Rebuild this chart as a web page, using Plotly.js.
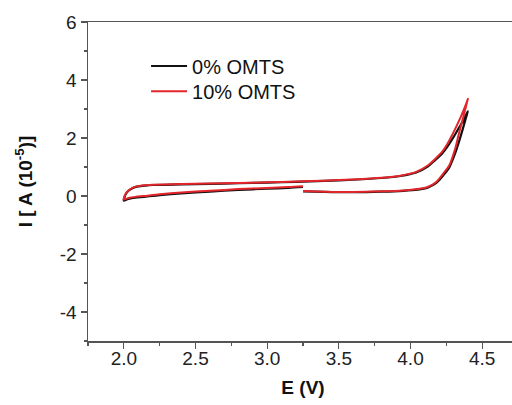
<!DOCTYPE html>
<html>
<head>
<meta charset="utf-8">
<script src="https://cdn.plot.ly/plotly-3.0.1.min.js"></script>
<style>
html, body { margin: 0; padding: 0; overflow: hidden; background: #fff; }
#chart { width: 520px; height: 405px; }
</style>
</head>
<body>
<div id="chart"></div>
<script>
// Potential (V) along the scan path: lower-right branch up to vertex, upper branch back to 2.0 V, lower-left branch to 3.25 V
const E_black = [3.25, 3.4, 3.6, 3.8, 3.95, 4.05, 4.12, 4.18, 4.23, 4.27, 4.31, 4.34, 4.37, 4.39, 4.40,
  4.39, 4.37, 4.35, 4.32, 4.29, 4.26, 4.22, 4.17, 4.12, 4.04, 3.93, 3.8, 3.6, 3.4, 3.2, 3.0, 2.8, 2.6, 2.4, 2.2, 2.15, 2.1, 2.06, 2.03, 2.01, 2.0,
  2.02, 2.04, 2.08, 2.14, 2.25, 2.4, 2.6, 2.8, 3.0, 3.15, 3.25];
const I_black = [0.16, 0.14, 0.13, 0.15, 0.18, 0.22, 0.29, 0.45, 0.72, 0.98, 1.45, 1.9, 2.4, 2.75, 2.92,
  2.82, 2.62, 2.45, 2.2, 1.95, 1.72, 1.46, 1.23, 1.01, 0.81, 0.69, 0.62, 0.56, 0.52, 0.49, 0.46, 0.44, 0.42, 0.40, 0.38, 0.36, 0.33, 0.27, 0.17, 0.03, -0.16,
  -0.12, -0.09, -0.06, -0.03, 0.03, 0.09, 0.15, 0.21, 0.25, 0.28, 0.31];
const E_red = [3.25, 3.4, 3.6, 3.8, 3.95, 4.05, 4.12, 4.18, 4.23, 4.27, 4.31, 4.34, 4.37, 4.39, 4.40,
  4.39, 4.37, 4.35, 4.32, 4.29, 4.26, 4.22, 4.17, 4.12, 4.04, 3.93, 3.8, 3.6, 3.4, 3.2, 3.0, 2.8, 2.6, 2.4, 2.2, 2.15, 2.1, 2.06, 2.03, 2.01, 2.0,
  2.02, 2.04, 2.08, 2.14, 2.25, 2.4, 2.6, 2.8, 3.0, 3.15, 3.25];
const I_red = [0.17, 0.15, 0.14, 0.16, 0.19, 0.24, 0.31, 0.48, 0.78, 1.05, 1.6, 2.2, 2.75, 3.15, 3.35,
  3.2, 2.95, 2.72, 2.4, 2.1, 1.82, 1.52, 1.27, 1.05, 0.83, 0.70, 0.63, 0.57, 0.53, 0.50, 0.47, 0.45, 0.43, 0.41, 0.39, 0.37, 0.34, 0.28, 0.18, 0.05, -0.12,
  -0.09, -0.06, -0.03, 0.0, 0.06, 0.12, 0.18, 0.24, 0.28, 0.31, 0.34];
const seriesNames = ["0% OMTS", "10% OMTS"];
const xTickVals = [2.0, 2.5, 3.0, 3.5, 4.0, 4.5];
const xTickText = ["2.0", "2.5", "3.0", "3.5", "4.0", "4.5"];
const yTickVals = [-4, -2, 0, 2, 4, 6];
const yTickText = ["-4", "-2", "0", "2", "4", "6"];

const font = "Liberation Sans, Arial, sans-serif";
const traces = [
  {x: E_black, y: I_black, name: seriesNames[0], mode: "lines", line: {color: "#111111", width: 2.2, shape: "spline", smoothing: 0.7}, legend: "legend"},
  {x: E_red, y: I_red, name: seriesNames[1], mode: "lines", line: {color: "#e3262b", width: 2, shape: "spline", smoothing: 0.7}, legend: "legend2"}
];
const axisCommon = {
  showgrid: false, zeroline: false, showline: true, linecolor: "#555", linewidth: 1.5,
  ticks: "outside", ticklen: 6, tickwidth: 1.3, tickcolor: "#555", mirror: true,
  tickfont: {family: font, size: 19, color: "#222"}, tickmode: "array"
};
const legendCommon = {xanchor: "left", yanchor: "middle", bgcolor: "rgba(0,0,0,0)",
  font: {family: font, size: 20, color: "#111"}, itemwidth: 36};
const layout = {
  width: 520, height: 405,
  margin: {l: 88, r: 2, t: 22, b: 64},
  paper_bgcolor: "#fff", plot_bgcolor: "#fff",
  showlegend: true,
  legend: Object.assign({}, legendCommon, {x: 0.135, y: 0.862}),
  legend2: Object.assign({}, legendCommon, {x: 0.135, y: 0.783}),
  xaxis: Object.assign({}, axisCommon, {
    range: [1.75, 4.75], tickvals: xTickVals, ticktext: xTickText, ticklabelstandoff: -6,
    minor: {ticks: "outside", ticklen: 3, dtick: 0.25, tick0: 1.75, tickcolor: "#555", tickwidth: 1.3},
    title: {text: "<b>E (V)</b>", font: {family: font, size: 19, color: "#111"}, standoff: 12}
  }),
  yaxis: Object.assign({}, axisCommon, {
    range: [-5, 6], tickvals: yTickVals, ticktext: yTickText,
    minor: {ticks: "outside", ticklen: 3, dtick: 1, tick0: -5, tickcolor: "#555", tickwidth: 1.3},
    title: {text: "<b>I [ A (10<sup>-5</sup>)]</b>", font: {family: font, size: 19, color: "#111"}, standoff: 22}
  })
};
Plotly.newPlot("chart", traces, layout, {displayModeBar: false, staticPlot: true});
</script>
</body>
</html>
